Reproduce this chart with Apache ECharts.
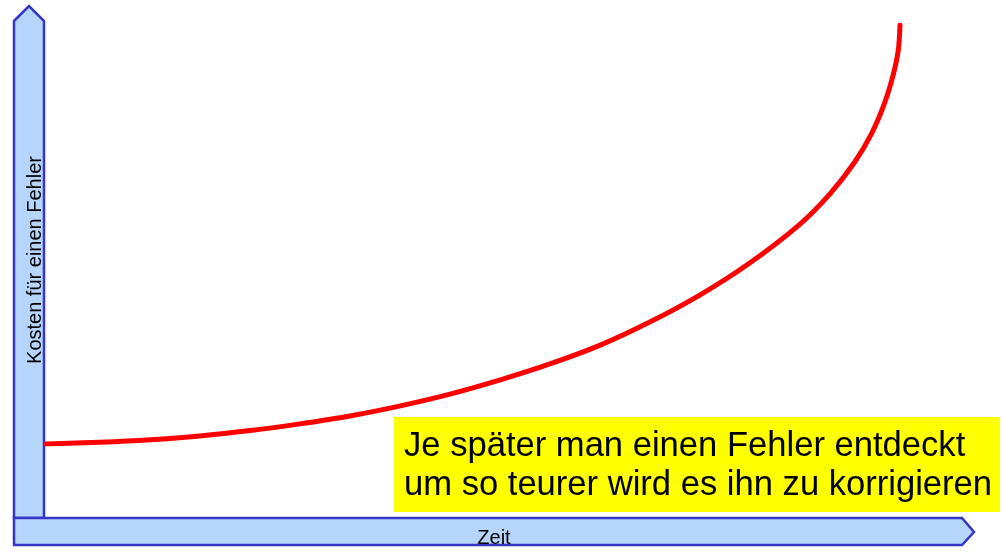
<!DOCTYPE html>
<html>
<head>
<meta charset="utf-8">
<script src="https://cdn.jsdelivr.net/npm/echarts@6/dist/echarts.min.js"></script>
<style>
html,body{margin:0;padding:0;background:#fff;}
#chart{width:1002px;height:553px;}
</style>
</head>
<body>
<div id="chart"></div>
<script>
// Data (Zeit 0..100, Kosten 0..100)
const zeit   = [0, 6.3, 12.2, 18.0, 23.9, 29.7, 35.6, 41.5, 47.3, 53.2, 59.0, 64.9, 70.7, 76.6, 82.4, 88.3, 91.8, 94.7, 96.7, 98.2, 99.2, 99.8, 100];
const kosten = [0, 0.4, 1.0, 1.9, 3.2, 4.8, 6.7, 9.1, 11.9, 15.3, 19.1, 23.6, 29.1, 35.6, 43.2, 52.5, 59.7, 67.3, 74.2, 81.4, 88.1, 94.0, 100];
const xAxisName = 'Zeit';
const yAxisName = 'Kosten für einen Fehler';
const noteLines = ['Je später man einen Fehler entdeckt', 'um so teurer wird es ihn zu korrigieren'];

const chart = echarts.init(document.getElementById('chart'), null, {renderer: 'canvas'});
const FONT = '"Liberation Sans", Arial, sans-serif';
const fill = '#b5d5fb';
const stroke = '#3535c8';

chart.setOption({
  backgroundColor: '#ffffff',
  animation: false,
  grid: {left: 46, right: 102, top: 25, bottom: 109},
  xAxis: {type: 'value', min: 0, max: 100, show: false},
  yAxis: {type: 'value', min: 0, max: 100, show: false},
  series: [{
    type: 'line',
    data: zeit.map((x, i) => [x, kosten[i]]),
    smooth: 0.3,
    showSymbol: false,
    z: 5,
    lineStyle: {color: '#ff0000', width: 5, cap: 'round', join: 'round'}
  }],
  graphic: [
    {
      type: 'polygon', z: 1,
      shape: {points: [[14, 21], [29, 6], [44, 21], [44, 518], [14, 518]]},
      style: {fill: fill, stroke: stroke, lineWidth: 2.5, lineJoin: 'miter'}
    },
    {
      type: 'polygon', z: 1,
      shape: {points: [[14, 518], [962, 518], [974, 532], [962, 545], [14, 545]]},
      style: {fill: fill, stroke: stroke, lineWidth: 2.5, lineJoin: 'miter'}
    },
    {
      type: 'text', z: 3,
      x: 35, y: 260, rotation: Math.PI / 2,
      style: {text: yAxisName, font: '20px ' + FONT, fill: '#000', align: 'center', verticalAlign: 'middle'}
    },
    {
      type: 'text', z: 3,
      x: 494, y: 538,
      style: {text: xAxisName, font: '20px ' + FONT, fill: '#000', align: 'center', verticalAlign: 'middle'}
    },
    {
      type: 'rect', z: 2,
      shape: {x: 394, y: 417, width: 606, height: 95},
      style: {fill: '#ffff00'}
    },
    {
      type: 'text', z: 3,
      x: 404, y: 446,
      style: {text: noteLines[0], font: '34.6px ' + FONT, fill: '#000', align: 'left', verticalAlign: 'middle'}
    },
    {
      type: 'text', z: 3,
      x: 404, y: 485,
      style: {text: noteLines[1], font: '34.6px ' + FONT, fill: '#000', align: 'left', verticalAlign: 'middle'}
    }
  ]
});
</script>
</body>
</html>
